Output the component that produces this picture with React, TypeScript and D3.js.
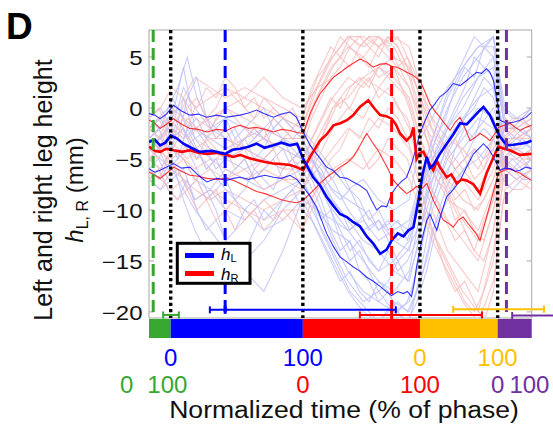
import React from 'react';
import * as d3 from 'd3';

const W = 553;
const H = 434;

const GREEN = '#36a72f';
const BLUE = '#0000ff';
const RED = '#ff0000';
const ORANGE = '#ffc000';
const PURPLE = '#7030a0';

// y axis ticks (mm)
const yTicks = [5, 0, -5, -10, -15, -20];

// phase boundaries in normalized total time (0..100)
const phaseBounds = [0, 5.67, 40.2, 70.8, 91.1, 100];
const phaseColors = [GREEN, BLUE, RED, ORANGE, PURPLE];

// mean event times (dashed lines)
const eventTimes = [1.1, 19.9, 63.4, 93.4];
const eventColors = [GREEN, BLUE, RED, PURPLE];

// error bars
const errLo = [3.7, 15.9, 55.1, 79.5, 94.9];
const errHi = [7.8, 64.5, 87.0, 103.2, 112];
const errMid = [null, 19.9, 63.4, null, null];
const errLevel = [-20.3, -19.8, -20.3, -19.75, -20.35];
const errColors = [GREEN, BLUE, RED, ORANGE, PURPLE];
const errCapHi = [true, true, true, true, false];

// bottom phase labels
const row1Text = ['0', '100', '0', '100'];
const row1T = [5.67, 40.2, 70.8, 91.1];
const row1Color = [BLUE, BLUE, ORANGE, ORANGE];
const row2Text = ['0', '100', '0', '100', '0', '100'];
const row2T = [-5.8, 4.8, 40.2, 70.8, 91.1, 99.4];
const row2Color = [GREEN, GREEN, RED, RED, PURPLE, PURPLE];

// mean and +/- SD curves: [t, mm]
const hLMean: [number, number][] = [[0,-3.33],[1.5,-3.1],[2.9,-3.66],[4.3,-3.4],[5.7,-2.7],[7.3,-3.0],[9.0,-3.5],[11.0,-3.9],[13.3,-4.3],[16.5,-4.2],[19.9,-4.5],[21.8,-4.1],[23.8,-4.0],[26.0,-3.8],[28.1,-3.5],[30.2,-3.9],[32.5,-3.66],[34.6,-3.4],[36.8,-3.66],[38.7,-3.5],[40.3,-5.0],[42.9,-6.8],[44.7,-7.6],[46.4,-8.7],[48.2,-9.6],[49.9,-10.4],[51.7,-10.7],[53.4,-11.2],[55.1,-11.6],[56.9,-12.6],[58.6,-13.3],[60.4,-14.3],[62.1,-13.9],[63.4,-13.0],[65.0,-12.3],[66.5,-12.6],[67.8,-12.0],[69.1,-11.7],[70.4,-9.05],[71.5,-6.5],[72.6,-4.8],[73.4,-5.9],[74.3,-5.6],[76.0,-4.5],[77.8,-3.5],[79.5,-2.6],[81.3,-1.5],[83.0,-1.6],[84.8,-0.9],[86.0,-0.4],[87.4,0.1],[89.1,-0.7],[90.4,-1.8],[91.7,-2.8],[93.5,-3.66],[95.2,-3.6],[97.0,-3.5],[98.6,-3.4],[100,-3.2]];
const hRMean: [number, number][] = [[0,-3.8],[1.5,-4.2],[2.9,-4.3],[4.5,-4.0],[6.4,-4.15],[8.6,-4.3],[10.7,-4.15],[12.9,-4.4],[15.1,-4.5],[17.7,-4.4],[20.3,-4.6],[22.0,-4.8],[23.8,-4.6],[26.0,-4.9],[28.1,-5.1],[30.3,-5.3],[32.5,-5.45],[34.6,-5.5],[36.8,-5.6],[38.6,-5.8],[40.3,-6.1],[42.1,-4.8],[44.7,-3.2],[46.4,-2.6],[48.2,-1.7],[50.0,-1.5],[51.7,-1.2],[53.4,-0.7],[55.1,0.1],[57.3,0.75],[58.8,0.0],[60.4,-0.7],[62.0,-0.8],[63.4,-1.05],[64.5,-1.6],[65.6,-2.5],[67.3,-3.2],[68.5,-2.7],[69.1,-1.9],[69.9,-5.0],[70.8,-4.4],[71.7,-4.3],[73.0,-5.3],[74.3,-6.1],[75.2,-5.2],[76.0,-5.8],[77.8,-6.8],[79.0,-6.5],[80.4,-7.4],[81.7,-7.0],[83.0,-7.1],[84.8,-7.5],[86.5,-8.4],[88.2,-6.4],[89.8,-5.0],[91.3,-3.8],[92.8,-4.0],[94.3,-4.15],[95.7,-4.4],[97.0,-4.6],[100,-4.5]];
const hLUpper: [number, number][] = [[0,-0.55],[1.5,-0.7],[2.9,-1.05],[4.6,-0.6],[6.4,0.26],[8.5,-0.3],[10.7,-0.7],[12.9,-0.6],[15.1,-0.9],[17.7,-0.7],[20.3,-0.9],[23.8,-0.7],[26.0,-0.5],[28.1,-0.2],[30.3,-0.6],[32.5,-0.9],[34.6,-0.6],[36.8,-0.4],[38.5,-0.9],[40.3,-2.35],[42.0,-3.6],[43.8,-4.5],[46.4,-5.8],[48.0,-6.1],[49.9,-6.8],[51.7,-6.9],[53.4,-7.25],[55.1,-7.6],[56.9,-8.1],[58.2,-9.1],[59.5,-10.0],[60.8,-9.6],[62.1,-9.7],[63.4,-8.4],[64.7,-7.7],[66.0,-7.2],[67.3,-6.8],[68.6,-5.5],[69.9,-3.8],[70.8,-2.5],[72.2,-1.2],[73.4,-0.2],[74.7,0.4],[76.0,1.1],[77.8,1.6],[79.5,2.4],[81.3,2.2],[83.0,2.7],[84.3,3.1],[85.6,3.5],[86.9,3.4],[88.2,3.85],[89.1,3.5],[90.0,2.7],[91.0,0.6],[91.7,-1.2],[93.5,-1.5],[95.2,-1.4],[97.0,-1.2],[98.6,-0.9],[100,-0.4]];
const hLLower: [number, number][] = [[0,-5.95],[1.5,-6.3],[2.9,-6.1],[4.6,-5.8],[6.4,-5.45],[8.5,-5.9],[10.7,-5.8],[12.9,-6.6],[15.1,-7.25],[17.7,-6.9],[20.3,-7.1],[22.0,-6.9],[23.8,-6.8],[26.0,-7.0],[28.1,-6.8],[30.3,-6.6],[32.5,-6.8],[34.6,-6.9],[36.8,-6.6],[38.6,-7.0],[40.3,-7.75],[42.0,-8.6],[43.8,-9.7],[45.1,-11.0],[46.4,-12.3],[48.2,-13.6],[49.9,-14.6],[51.7,-15.1],[53.4,-15.6],[55.1,-16.0],[56.9,-16.6],[58.6,-17.0],[60.4,-17.5],[62.0,-18.0],[63.4,-18.4],[65.0,-18.0],[66.5,-18.2],[67.5,-18.0],[68.6,-18.5],[69.3,-17.2],[69.9,-15.6],[70.8,-13.8],[71.7,-12.3],[72.6,-11.0],[73.4,-10.4],[74.3,-11.2],[75.2,-12.0],[76.5,-10.2],[77.8,-8.7],[79.5,-8.0],[81.3,-7.1],[83.0,-5.8],[84.8,-4.5],[86.1,-4.0],[87.4,-3.5],[88.7,-4.0],[90.0,-4.8],[91.7,-6.1],[93.0,-5.9],[94.3,-5.95],[95.7,-6.2],[97.0,-6.1],[98.5,-5.8],[100,-5.95]];
const hRUpper: [number, number][] = [[0,-1.2],[1.5,-1.5],[2.9,-2.0],[4.6,-1.6],[6.4,-1.05],[8.5,-1.6],[10.7,-2.0],[12.9,-2.1],[15.1,-2.35],[17.7,-2.1],[20.3,-2.2],[22.0,-1.9],[23.8,-1.7],[26.0,-2.0],[28.1,-1.9],[30.3,-2.1],[32.5,-2.35],[34.6,-2.1],[36.8,-2.2],[38.6,-2.4],[40.3,-2.5],[42.1,-0.55],[43.4,0.5],[44.7,1.4],[46.4,2.2],[48.2,3.0],[50.0,3.5],[51.7,4.0],[53.4,4.4],[55.1,4.8],[56.9,4.5],[58.6,4.0],[60.4,4.3],[62.1,4.35],[63.4,4.1],[64.7,4.0],[66.0,3.8],[67.3,3.5],[69.0,3.2],[70.8,2.7],[72.1,1.6],[73.4,0.4],[74.7,-0.3],[76.0,-0.9],[77.4,-1.6],[78.7,-2.2],[80.0,-1.4],[81.3,-0.9],[82.6,-2.0],[83.9,-3.2],[85.2,-2.9],[86.5,-2.5],[87.8,-2.8],[89.1,-3.2],[90.2,-2.6],[91.3,-1.9],[92.8,-1.7],[94.3,-1.5],[95.7,-1.9],[97.0,-2.2],[98.5,-1.9],[100,-1.7]];
const hRLower: [number, number][] = [[0,-6.3],[1.5,-6.6],[2.9,-6.9],[4.6,-6.4],[6.4,-5.8],[8.5,-6.2],[10.7,-6.6],[12.9,-6.7],[15.1,-6.9],[17.7,-7.0],[20.3,-6.9],[22.0,-7.1],[23.8,-7.4],[26.0,-7.8],[28.1,-8.2],[30.3,-8.4],[32.5,-8.7],[34.6,-9.0],[36.8,-9.2],[38.6,-9.3],[40.3,-9.05],[42.9,-8.1],[44.7,-7.4],[46.4,-6.8],[48.2,-6.3],[49.9,-5.8],[51.7,-5.4],[53.4,-4.8],[55.1,-3.7],[56.9,-2.5],[58.6,-3.5],[59.9,-4.2],[61.2,-5.1],[62.5,-6.0],[63.9,-7.1],[65.6,-7.8],[67.3,-8.4],[68.6,-8.1],[69.9,-7.7],[71.3,-7.9],[72.6,-7.4],[74.3,-9.05],[75.6,-10.0],[76.9,-11.0],[78.2,-11.3],[79.5,-11.7],[80.8,-11.0],[82.1,-10.7],[83.5,-11.4],[84.8,-12.0],[85.6,-12.4],[86.5,-13.0],[87.4,-11.8],[88.2,-10.7],[89.8,-8.5],[91.3,-6.4],[92.8,-6.1],[94.3,-5.95],[95.7,-6.2],[97.0,-6.4],[98.5,-6.8],[100,-7.1]];

// individual trials (faint traces), coarse set sampled at tTrialA
const tTrialA = [0, 3, 6, 9, 12, 16, 20, 25, 30, 35, 40, 44, 48, 52, 56, 60, 64, 68, 71, 74, 78, 82, 86, 90, 93, 96, 100];
const trialsLA = [
  [-2, -3, -1, 4, -2, -3, -4, -3, -2, -3, -3, -6, -9, -11, -13, -14, -16, -17, -12, -6, -2, 1, 3, 5, -2, -3, -2],
  [-5, -6, -4, -5, -7, -8, -6, -7, -8, -7, -6, -9, -13, -16, -18, -19, -20, -21, -16, -10, -6, -4, -2, 0, -4, -5, -4],
  [-3, -2, 1, -1, -3, -2, -1, -2, -3, -1, -2, -4, -6, -8, -7, -9, -10, -9, -3, -1, 2, 4, 6, 7, -1, -2, -1],
  [-4, -5, -6, -8, -10, -12, -14, -15, -13, -10, -8, -11, -14, -17, -19, -18, -20, -19, -14, -9, -5, -3, -1, -2, -5, -4, -5],
  [-1, 0, -2, -3, -2, -4, -5, -4, -5, -3, -4, -5, -7, -10, -12, -11, -13, -14, -8, -4, 0, 3, 5, 7, 0, -1, 0],
  [-6, -7, -5, -9, -12, -15, -17, -16, -18, -14, -9, -12, -15, -18, -20, -21, -19, -20, -17, -12, -9, -6, -5, -3, -6, -6, -7],
  [-3, -4, -2, 2, 0, -2, -3, -4, -3, -4, -5, -7, -10, -12, -14, -16, -15, -13, -9, -5, -3, -1, 1, 2, -3, -3, -2],
  [-7, -8, -7, -6, -9, -8, -10, -11, -9, -8, -7, -10, -12, -13, -15, -17, -18, -16, -10, -7, -4, -2, 0, -1, -6, -7, -6],
  [-2, -1, -3, -2, -4, -6, -8, -10, -12, -11, -9, -10, -11, -12, -11, -13, -12, -11, -7, -3, 1, 4, 6, 6, -2, -2, -3],
  [-4, -3, -4, 1, -3, -5, -5, -6, -5, -6, -4, -6, -8, -9, -10, -12, -11, -12, -8, -5, -2, 0, 3, 4, -4, -3, -4],
];
const trialsRA = [
  [-3, -2, -1, 1, -1, -2, 0, -1, -2, -3, -3, 1, 4, 6, 5, 7, 6, 3, -1, -5, -8, -11, -13, -9, -3, -2, -3],
  [-5, -6, -4, -5, -6, -5, -6, -7, -6, -7, -8, -5, -2, 0, -1, 2, 1, -2, -6, -10, -14, -16, -18, -12, -5, -6, -5],
  [-2, -1, 0, -1, -2, -1, 0, 1, 0, -1, -2, 2, 5, 7, 6, 7, 5, 4, 1, -2, -4, -6, -8, -5, -2, -1, -2],
  [-6, -7, -8, -7, -8, -9, -8, -9, -10, -9, -8, -6, -4, -2, -3, -1, -2, -4, -8, -12, -15, -18, -20, -14, -6, -7, -6],
  [-4, -3, -5, -4, -3, -4, -5, -4, -5, -6, -6, -3, 0, 2, 3, 4, 3, 1, -3, -6, -9, -10, -12, -8, -4, -4, -5],
  [-1, 0, 2, 1, 3, 2, 1, 2, 1, 0, -1, 3, 5, 7, 7, 6, 7, 6, 2, -1, -3, -4, -6, -3, -1, -2, -1],
  [-7, -8, -6, -7, -9, -8, -9, -10, -11, -10, -10, -8, -6, -5, -6, -4, -5, -7, -10, -13, -16, -19, -21, -17, -8, -7, -8],
  [-3, -4, -3, -2, -4, -3, -3, -4, -3, -4, -5, -2, 1, 3, 2, 4, 5, 2, -2, -4, -7, -9, -10, -7, -3, -4, -3],
  [-2, -3, -2, -3, 0, 1, 2, 1, 3, 1, 0, 2, 3, 4, 5, 3, 4, 2, -1, -3, -5, -7, -9, -6, -2, -3, -2],
  [-5, -4, -6, -5, -7, -6, -7, -6, -8, -7, -7, -4, 0, 1, 3, 2, 4, 0, -4, -8, -11, -13, -15, -10, -5, -5, -6],
];

// finer trial set sampled every 2.5 % (tTrialB)
const tTrialB = [0, 2.5, 5, 7.5, 10, 12.5, 15, 17.5, 20, 22.5, 25, 27.5, 30, 32.5, 35, 37.5, 40, 42.5, 45, 47.5, 50, 52.5, 55, 57.5, 60, 62.5, 65, 67.5, 70, 72.5, 75, 77.5, 80, 82.5, 85, 87.5, 90, 92.5, 95, 97.5, 100];
const trialsLB = [
  [-3, -2, -4, -1, -3, -5, -4, -6, -5, -4, -3, -5, -4, -2, -3, -4, -5, -7, -9, -12, -14, -13, -16, -17, -19, -18, -20, -19, -16, -11, -8, -5, -3, -1, 1, 3, 2, -3, -4, -3, -4],
  [-6, -5, -7, -6, -8, -7, -9, -8, -7, -9, -8, -6, -7, -8, -6, -5, -7, -9, -11, -10, -13, -15, -14, -16, -18, -17, -15, -17, -14, -9, -6, -7, -4, -2, -3, 0, -1, -5, -6, -5, -6],
  [-2, -1, 0, 2, 5, 1, -1, -2, -3, -2, -4, -3, -2, -1, -2, -3, -2, -4, -5, -7, -6, -8, -9, -11, -10, -12, -11, -13, -10, -6, -3, -1, 2, 4, 3, 6, 5, -1, -2, -1, -2],
  [-5, -4, -6, -5, -4, -6, -8, -10, -13, -15, -14, -12, -10, -11, -9, -8, -7, -9, -12, -14, -16, -18, -19, -20, -21, -20, -19, -20, -18, -15, -11, -8, -6, -5, -3, -2, -3, -6, -5, -6, -5],
  [-4, -3, -2, -3, 1, 3, -1, -3, -2, -4, -3, -2, -3, -4, -3, -5, -4, -5, -6, -8, -9, -8, -10, -12, -11, -13, -15, -14, -12, -8, -4, -2, 0, 2, 5, 4, 3, -2, -3, -2, -3],
  [-7, -6, -8, -9, -7, -10, -12, -11, -13, -12, -10, -9, -11, -10, -9, -8, -10, -11, -13, -15, -17, -16, -18, -19, -17, -18, -20, -21, -19, -16, -12, -9, -7, -6, -4, -5, -4, -7, -8, -7, -7],
  [-3, -4, -3, -5, -2, -4, -6, -5, -7, -6, -5, -7, -6, -5, -4, -6, -5, -6, -8, -10, -12, -14, -13, -15, -16, -14, -16, -15, -13, -10, -7, -4, -2, -1, 0, 2, 1, -3, -4, -4, -3],
  [-1, -2, -1, 0, -2, -1, -3, -2, -1, -3, -2, -1, 0, -2, -1, -2, -3, -5, -7, -9, -10, -12, -11, -10, -12, -11, -13, -12, -9, -5, -2, 1, 3, 5, 7, 6, 7, 0, -1, -1, 0],
];
const trialsRB = [
  [-3, -4, -2, -3, -1, -2, -3, -1, 0, -1, -2, -3, -2, -4, -3, -2, -3, 0, 2, 4, 5, 4, 6, 7, 6, 5, 4, 5, 2, -2, -5, -8, -10, -12, -14, -11, -9, -4, -3, -3, -2],
  [-6, -7, -5, -6, -8, -7, -9, -8, -10, -9, -11, -10, -9, -10, -11, -10, -12, -9, -7, -5, -4, -2, -3, -1, -2, 0, -1, -3, -6, -10, -13, -15, -17, -19, -20, -18, -15, -7, -6, -7, -6],
  [-1, 0, -2, -1, 1, 0, 2, 1, 3, 2, 0, 1, -1, 0, -1, -2, -1, 2, 4, 6, 5, 7, 6, 7, 7, 6, 7, 5, 3, 0, -2, -4, -3, -5, -7, -6, -4, -2, -1, -1, 0],
  [-4, -5, -3, -4, -5, -4, -6, -5, -4, -6, -5, -7, -6, -5, -7, -6, -8, -6, -3, -1, 1, 0, 2, 3, 1, 2, 0, -1, -4, -7, -9, -11, -13, -12, -14, -15, -12, -5, -4, -5, -4],
  [-2, -3, -1, -2, -3, -2, -1, -3, -2, -4, -3, -2, -3, -1, -2, -3, -4, -1, 1, 3, 4, 6, 5, 4, 6, 7, 6, 4, 1, -3, -6, -7, -9, -8, -10, -9, -7, -3, -2, -3, -3],
  [-7, -6, -8, -9, -8, -10, -9, -11, -10, -12, -11, -10, -12, -11, -10, -11, -12, -10, -8, -7, -6, -5, -4, -6, -5, -3, -4, -5, -8, -11, -13, -16, -18, -17, -19, -21, -18, -9, -8, -8, -7],
  [-5, -4, -5, -3, -4, -5, -3, -4, -5, -3, -4, -6, -5, -4, -6, -5, -6, -3, -1, 1, 0, 2, 3, 2, 4, 3, 2, 1, -2, -5, -7, -8, -11, -10, -12, -13, -10, -5, -4, -5, -5],
  [-2, -1, -3, -2, 0, 1, -1, 0, 2, 1, 0, -1, 1, 0, -1, 0, -2, 1, 3, 5, 7, 6, 7, 6, 5, 7, 6, 4, 2, -1, -3, -4, -6, -5, -4, -6, -3, -2, -2, -1, -2],
];

const legendLabels = ['L', 'R'];
const legendColors = [BLUE, RED];

const FONT = "'Liberation Sans', Arial, Helvetica, sans-serif";

export default function App() {
  const left = 149, right = 531.7, top = 30, bottom = 318;
  const x = d3.scaleLinear().domain([0, 100]).range([left, right]);
  const y = d3.scaleLinear().domain([-20.6, 7.65]).range([bottom, top]);
  const line = d3.line<[number, number]>().x(d => x(d[0])).y(d => y(d[1]));
  const pts = (ts: number[], vals: number[]) => ts.map((t, i) => [t, vals[i]] as [number, number]);

  const faint: any[] = [];
  const LCOL = '#bcc1fa';
  const RCOL = '#f8bcbc';
  const addSet = (ts: number[], Ls: number[][], Rs: number[][], tag: string) => {
    for (let i = 0; i < Math.max(Ls.length, Rs.length); i++) {
      if (Ls[i]) faint.push(<path key={tag + 'l' + i} d={line(pts(ts, Ls[i])) || ''} fill="none" stroke={LCOL} strokeWidth={1.1} opacity={0.8} />);
      if (Rs[i]) faint.push(<path key={tag + 'r' + i} d={line(pts(ts, Rs[i])) || ''} fill="none" stroke={RCOL} strokeWidth={1.1} opacity={0.8} />);
    }
  };
  addSet(tTrialA, trialsLA, trialsRA, 'a');
  addSet(tTrialB, trialsLB, trialsRB, 'b');

  const barTop = 319, barBot = 338;

  return (
    <svg width={W} height={H} style={{ position: 'absolute', left: 0, top: 0, background: '#fff' }} fontFamily={FONT}>
      <defs>
        <clipPath id="plotClip">
          <rect x={left} y={top} width={right - left} height={bottom - top} />
        </clipPath>
      </defs>
      <rect x={0} y={0} width={W} height={H} fill="#fff" />
      <rect x={left} y={top} width={right - left} height={bottom - top} fill="none" stroke="#a8a8a8" strokeWidth={1} />
      {yTicks.map(v => (
        <g key={'yt' + v}>
          <line x1={left} x2={left + 5} y1={y(v)} y2={y(v)} stroke="#a8a8a8" />
          <line x1={right - 5} x2={right} y1={y(v)} y2={y(v)} stroke="#a8a8a8" />
          <text transform={`translate(142.5,${y(v) + 8}) scale(1.2,1)`} textAnchor="end" fontSize={20} fill="#111">
            {v < 0 ? '\u2212' + Math.abs(v) : String(v)}
          </text>
        </g>
      ))}
      <g clipPath="url(#plotClip)">
        {faint}
        <path d={line(hRUpper) || ''} fill="none" stroke={RED} strokeWidth={1.1} opacity={0.8} />
        <path d={line(hRLower) || ''} fill="none" stroke={RED} strokeWidth={1.1} opacity={0.8} />
        <path d={line(hLUpper) || ''} fill="none" stroke={BLUE} strokeWidth={1.1} opacity={0.8} />
        <path d={line(hLLower) || ''} fill="none" stroke={BLUE} strokeWidth={1.1} opacity={0.8} />
        <path d={line(hRMean) || ''} fill="none" stroke={RED} strokeWidth={2.6} />
        <path d={line(hLMean) || ''} fill="none" stroke={BLUE} strokeWidth={2.6} />
      </g>
      {eventTimes.map((t, i) => (
        <line key={'ev' + i} x1={x(t)} x2={x(t)} y1={top} y2={bottom} stroke={eventColors[i]} strokeWidth={3} strokeDasharray="12,6" />
      ))}
      {phaseBounds.slice(1, -1).map((t, i) => (
        <line key={'pb' + i} x1={x(t)} x2={x(t)} y1={top} y2={bottom} stroke="#000" strokeWidth={3.4} strokeDasharray="3.2,3" />
      ))}
      {errLo.map((lo, i) => {
        const yy = y(errLevel[i]);
        return (
          <g key={'eb' + i} stroke={errColors[i]} strokeWidth={2}>
            <line x1={x(lo)} x2={x(errHi[i])} y1={yy} y2={yy} />
            <line x1={x(lo)} x2={x(lo)} y1={yy - 3.5} y2={yy + 3.5} />
            {errCapHi[i] && <line x1={x(errHi[i])} x2={x(errHi[i])} y1={yy - 3.5} y2={yy + 3.5} />}
            {errMid[i] !== null && <line x1={x(errMid[i] as number)} x2={x(errMid[i] as number)} y1={yy - 4} y2={yy + 4} strokeWidth={3} />}
          </g>
        );
      })}
      <g>
        <rect x={177.3} y={243.3} width={72.7} height={40} fill="#fff" stroke="#000" strokeWidth={3} />
        {legendColors.map((c, i) => (
          <line key={'lg' + i} x1={185} x2={214} y1={255.5 + i * 18} y2={255.5 + i * 18} stroke={c} strokeWidth={5} />
        ))}
        {legendLabels.map((s, i) => (
          <text key={'lt' + i} x={221} y={260 + i * 20} fontSize={17} fill="#000">
            <tspan fontStyle="italic">h</tspan>
            <tspan fontSize={11} dy={2}>{s}</tspan>
          </text>
        ))}
      </g>
      {phaseColors.map((c, i) => (
        <rect key={'ph' + i} x={x(phaseBounds[i])} y={barTop} width={x(phaseBounds[i + 1]) - x(phaseBounds[i])} height={barBot - barTop} fill={c} />
      ))}
      {row1Text.map((s, i) => (
        <text key={'r1' + i} x={x(row1T[i])} y={366} textAnchor="middle" fontSize={24} fill={row1Color[i]}>{s}</text>
      ))}
      {row2Text.map((s, i) => (
        <text key={'r2' + i} x={x(row2T[i])} y={393} textAnchor="middle" fontSize={24} fill={row2Color[i]}>{s}</text>
      ))}
      <text transform="translate(344,418) scale(1.13,1)" textAnchor="middle" fontSize={23.5} fill="#111">Normalized time (% of phase)</text>
      <text transform="translate(52,190) rotate(-90)" textAnchor="middle" fontSize={25} fill="#111">Left and right leg height</text>
      <text transform="translate(83,190) rotate(-90)" textAnchor="middle" fontSize={24} fill="#111">
        <tspan fontStyle="italic">h</tspan>
        <tspan fontSize={16} dy={5}>L, R</tspan>
        <tspan dy={-5}> (mm)</tspan>
      </text>
      <text x={6} y={38.5} fontSize={37} fontWeight="bold" fill="#000">D</text>
    </svg>
  );
}
